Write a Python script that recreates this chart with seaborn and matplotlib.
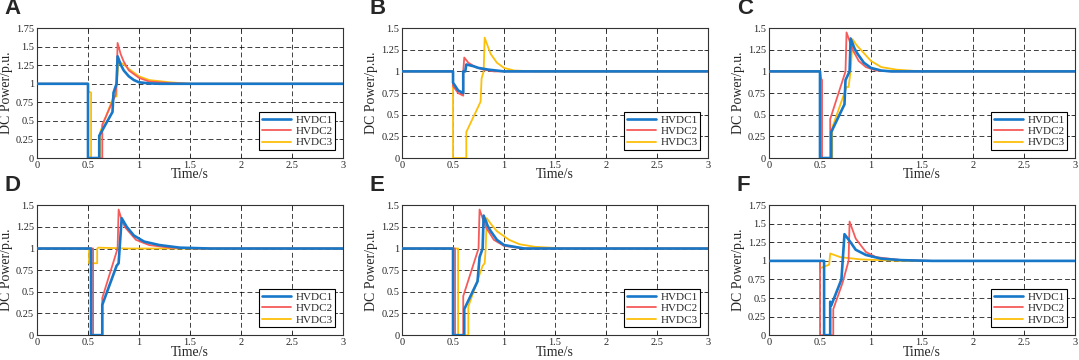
import numpy as np
import pandas as pd
import seaborn as sns
import matplotlib.pyplot as plt
from matplotlib.ticker import FuncFormatter

# series names and colours
names = ['HVDC1', 'HVDC2', 'HVDC3']
colors = {'HVDC1': '#1777c9', 'HVDC2': '#f65b5b', 'HVDC3': '#fcbf0a'}
widths = {'HVDC1': 1.9, 'HVDC2': 1.3, 'HVDC3': 1.3}

# panel A
A_t1 = [0, 0.5, 0.5, 0.61, 0.61, 0.74, 0.75, 0.78, 0.79, 0.82, 0.85, 0.9, 0.95, 1.0, 1.1, 1.2, 3]
A_y1 = [1, 1, 0, 0, 0.3, 0.62, 0.88, 1.0, 1.37, 1.26, 1.18, 1.1, 1.05, 1.02, 1.005, 1.0, 1.0]
A_t2 = [0, 0.5, 0.5, 0.64, 0.64, 0.77, 0.78, 0.79, 0.82, 0.85, 0.9, 1.0, 1.1, 1.3, 1.5, 3]
A_y2 = [1, 1, 0, 0, 0.45, 0.85, 1.0, 1.55, 1.4, 1.3, 1.18, 1.08, 1.03, 1.01, 1.0, 1.0]
A_t3 = [0, 0.5, 0.5, 0.53, 0.53, 0.62, 0.62, 0.75, 0.75, 0.78, 0.78, 0.8, 0.85, 0.9, 1.0, 1.1, 1.3, 1.5, 3]
A_y3 = [1, 1, 0.9, 0.88, 0, 0, 0.35, 0.83, 0.83, 0.83, 1.0, 1.3, 1.26, 1.2, 1.1, 1.05, 1.02, 1.0, 1.0]

# panel B
B_t1 = [0, 0.5, 0.5, 0.55, 0.6, 0.6, 0.62, 0.63, 0.7, 0.75, 0.85, 1.0, 3]
B_y1 = [1, 1, 0.87, 0.78, 0.75, 1.0, 1.0, 1.08, 1.06, 1.04, 1.02, 1.0, 1.0]
B_t2 = [0, 0.5, 0.5, 0.55, 0.6, 0.6, 0.61, 0.65, 0.72, 0.8, 0.9, 3]
B_y2 = [1, 1, 0.83, 0.75, 0.72, 1.0, 1.16, 1.1, 1.05, 1.02, 1.0, 1.0]
B_t3 = [0, 0.5, 0.5, 0.63, 0.63, 0.77, 0.78, 0.8, 0.81, 0.85, 0.87, 0.93, 1.0, 1.1, 1.3, 3]
B_y3 = [1, 1, 0, 0, 0.3, 0.65, 0.92, 1.0, 1.39, 1.26, 1.2, 1.1, 1.04, 1.01, 1.0, 1.0]

# panel C
C_t1 = [0, 0.5, 0.5, 0.61, 0.61, 0.74, 0.75, 0.79, 0.8, 0.84, 0.87, 0.93, 1.0, 1.1, 1.2, 3]
C_y1 = [1, 1, 0, 0, 0.3, 0.62, 0.9, 1.0, 1.38, 1.26, 1.2, 1.1, 1.04, 1.01, 1.0, 1.0]
C_t2 = [0, 0.5, 0.51, 0.52, 0.52, 0.6, 0.6, 0.75, 0.76, 0.82, 0.88, 0.95, 1.05, 1.2, 3]
C_y2 = [1, 1, 0.92, 0.9, 0, 0, 0.45, 1.0, 1.45, 1.25, 1.12, 1.05, 1.01, 1.0, 1.0]
C_t3 = [0, 0.5, 0.5, 0.62, 0.62, 0.76, 0.78, 0.8, 0.82, 0.86, 0.9, 1.0, 1.1, 1.25, 1.5, 3]
C_y3 = [1, 1, 0, 0, 0.35, 0.82, 0.82, 1.0, 1.37, 1.3, 1.25, 1.12, 1.05, 1.02, 1.0, 1.0]

# panel D
D_t1 = [0, 0.53, 0.53, 0.64, 0.64, 0.78, 0.8, 0.83, 0.88, 0.95, 1.05, 1.2, 1.4, 1.7, 3]
D_y1 = [1, 1, 0, 0, 0.35, 0.8, 0.83, 1.35, 1.25, 1.15, 1.08, 1.04, 1.01, 1.0, 1.0]
D_t2 = [0, 0.55, 0.55, 0.64, 0.64, 0.79, 0.8, 0.83, 0.86, 0.97, 1.1, 1.3, 1.6, 3]
D_y2 = [1, 1, 0, 0, 0.43, 1.0, 1.45, 1.33, 1.25, 1.1, 1.04, 1.01, 1.0, 1.0]
D_t3 = [0, 0.51, 0.51, 0.59, 0.59, 0.6, 0.9, 3]
D_y3 = [1, 1, 0.83, 0.83, 1.0, 1.01, 1.0, 1.0]

# panel E
E_t1 = [0, 0.5, 0.5, 0.61, 0.61, 0.74, 0.76, 0.79, 0.8, 0.84, 0.87, 0.93, 1.0, 1.2, 3]
E_y1 = [1, 1, 0, 0, 0.3, 0.62, 0.9, 1.0, 1.38, 1.26, 1.2, 1.1, 1.04, 1.0, 1.0]
E_t2 = [0, 0.52, 0.52, 0.6, 0.6, 0.75, 0.76, 0.82, 0.9, 1.0, 1.2, 3]
E_y2 = [1, 1, 0, 0, 0.45, 1.0, 1.45, 1.25, 1.1, 1.03, 1.0, 1.0]
E_t3 = [0, 0.55, 0.55, 0.65, 0.65, 0.79, 0.81, 0.82, 0.83, 0.88, 0.93, 1.05, 1.15, 1.3, 1.6, 3]
E_y3 = [1, 1, 0, 0, 0.33, 0.8, 0.83, 1.0, 1.35, 1.27, 1.2, 1.1, 1.05, 1.02, 1.0, 1.0]

# panel F
F_t1 = [0, 0.54, 0.54, 0.6, 0.6, 0.61, 0.71, 0.74, 0.8, 0.85, 0.95, 1.1, 1.3, 1.6, 3]
F_y1 = [1, 1, 0, 0, 0.45, 0.4, 0.75, 1.36, 1.25, 1.15, 1.08, 1.03, 1.01, 1.0, 1.0]
F_t2 = [0, 0.5, 0.5, 0.63, 0.63, 0.72, 0.78, 0.79, 0.85, 0.95, 1.05, 1.3, 1.6, 3]
F_y2 = [1, 1, 0, 0, 0.35, 0.7, 1.0, 1.53, 1.3, 1.12, 1.05, 1.01, 1.0, 1.0]
F_t3 = [0, 0.5, 0.5, 0.59, 0.6, 0.7, 0.9, 1.3, 3]
F_y3 = [1, 1, 0.9, 0.95, 1.1, 1.05, 1.02, 1.0, 1.0]

panels = {
    'A': ([A_t1, A_t2, A_t3], [A_y1, A_y2, A_y3], 1.75),
    'B': ([B_t1, B_t2, B_t3], [B_y1, B_y2, B_y3], 1.5),
    'C': ([C_t1, C_t2, C_t3], [C_y1, C_y2, C_y3], 1.5),
    'D': ([D_t1, D_t2, D_t3], [D_y1, D_y2, D_y3], 1.5),
    'E': ([E_t1, E_t2, E_t3], [E_y1, E_y2, E_y3], 1.5),
    'F': ([F_t1, F_t2, F_t3], [F_y1, F_y2, F_y3], 1.75),
}

sns.set_style('white')
plt.rcParams['font.family'] = ['Liberation Serif', 'DejaVu Serif']

fig = plt.figure(figsize=(10.79, 3.6), dpi=100)
lefts = [0.0343, 0.3726, 0.7127]
bottoms = [0.561, 0.069]
w, h = 0.2836, 0.361

for i, (letter, (ts, ys, ymax)) in enumerate(panels.items()):
    ax = fig.add_axes([lefts[i % 3], bottoms[i // 3], w, h])
    # draw HVDC3, HVDC2 then HVDC1 so blue sits on top
    for k in [2, 1, 0]:
        df = pd.DataFrame({'t': ts[k], 'p': ys[k]})
        sns.lineplot(data=df, x='t', y='p', ax=ax, color=colors[names[k]],
                     lw=widths[names[k]], estimator=None, sort=False,
                     label=names[k], zorder=3 + (2 - k))
    ax.set_xlim(0, 3)
    ax.set_ylim(0, ymax)
    ax.set_xticks(np.arange(0, 3.01, 0.5))
    ax.set_yticks(np.arange(0, ymax + 0.01, 0.25))
    fmt = FuncFormatter(lambda v, p: '%g' % v)
    ax.xaxis.set_major_formatter(fmt)
    ax.yaxis.set_major_formatter(fmt)
    ax.grid(True, color='black', linestyle=(0, (5, 3)), lw=0.7, alpha=0.75)
    ax.tick_params(direction='in', length=3, width=0.6, labelsize=7.5, pad=2,
                   top=True, right=True, bottom=True, left=True)
    for s in ax.spines.values():
        s.set_color('#333333')
        s.set_linewidth(0.8)
    ax.set_xlabel('Time/s', fontsize=10, labelpad=-1)
    ax.set_ylabel('DC Power/p.u.', fontsize=10, labelpad=2)
    handles, labels = ax.get_legend_handles_labels()
    order = [labels.index(n) for n in names]
    leg = ax.legend([handles[j] for j in order], names, loc='lower right',
                    fontsize=8, frameon=True, fancybox=False, framealpha=1,
                    edgecolor='black', borderpad=0.25, labelspacing=0.15,
                    handlelength=2.6, handletextpad=0.4, borderaxespad=0.7)
    leg.get_frame().set_linewidth(0.8)
    fig.text(lefts[i % 3] - 0.03, bottoms[i // 3] + h + 0.025, letter,
             fontsize=16, fontweight='bold', family='Liberation Sans',
             ha='left', va='bottom')

plt.savefig('out.png', dpi=100)
